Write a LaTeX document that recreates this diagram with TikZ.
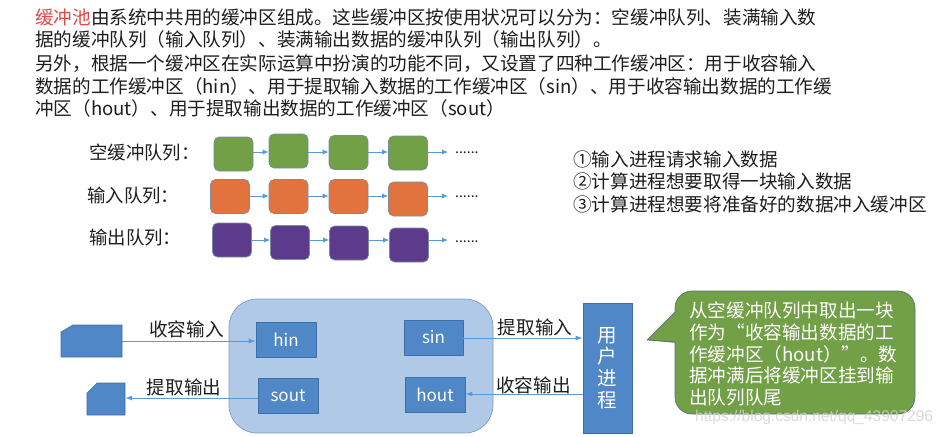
\documentclass[tikz,border=0pt]{standalone}
\usepackage{fontspec}
\setmainfont{Noto Sans CJK SC}
\newfontfamily\wmfont{Liberation Sans}
\usetikzlibrary{arrows.meta}
\definecolor{txt}{HTML}{1E1E1E}
\definecolor{poolred}{HTML}{E04848}
\definecolor{qgreen}{HTML}{71A046}
\definecolor{qorange}{HTML}{E2723E}
\definecolor{qpurple}{HTML}{5C3B8C}
\definecolor{qborder}{HTML}{7A8CA0}
\definecolor{arrowblue}{HTML}{5B9BD5}
\definecolor{bufblue}{HTML}{4F87C7}
\definecolor{bufborder}{HTML}{3E6FA8}
\definecolor{poolfill}{HTML}{AFC9E6}
\definecolor{poolborder}{HTML}{7D9CC8}
\definecolor{bubble}{HTML}{71A046}
\definecolor{bubbleborder}{HTML}{56707A}
\begin{document}
\begin{tikzpicture}[x=1pt,y=-1pt,
  toptext/.style={anchor=west,inner sep=0,text=txt,font=\fontsize{18.6}{22}\selectfont},
  qlabel/.style={anchor=west,inner sep=0,text=txt,font=\fontsize{18.4}{20}\selectfont},
  listtext/.style={anchor=west,inner sep=0,text=txt,font=\fontsize{18.6}{22}\selectfont},
  qbox/.style={draw=qborder,line width=0.6pt,rounded corners=5pt,minimum width=39pt,minimum height=34pt,inner sep=0},
  qdots/.style={anchor=west,inner sep=0,text=txt,font=\fontsize{14}{16}\selectfont},
  qarrow/.style={draw=arrowblue,line width=0.8pt,-{Latex[length=6pt,width=5pt]}},
  bufbox/.style={draw=bufborder,fill=bufblue,line width=0.6pt,minimum width=60pt,minimum height=35pt,inner sep=0,text=white,font=\fontsize{17}{20}\selectfont},
  card/.style={draw=bufborder,fill=bufblue,line width=0.6pt},
  flowlabel/.style={inner sep=0,text=txt,font=\fontsize{18.6}{22}\selectfont},
  flowarrow/.style={draw=arrowblue,line width=0.8pt,-{Latex[length=7pt,width=5pt]}},
]
\useasboundingbox[fill=white] (0,0) rectangle (949,436);

% top paragraph
\node[toptext] (t1) at (35,17) {{\color{poolred}缓冲池}由系统中共用的缓冲区组成。这些缓冲区按使用状况可以分为：空缓冲队列、装满输入数};
\node[toptext] (t2) at (35,39.5) {据的缓冲队列（输入队列）、装满输出数据的缓冲队列（输出队列）。};
\node[toptext] (t3) at (35,64) {另外，根据一个缓冲区在实际运算中扮演的功能不同，又设置了四种工作缓冲区：用于收容输入};
\node[toptext] (t4) at (35,86.5) {数据的工作缓冲区（hin）、用于提取输入数据的工作缓冲区（sin）、用于收容输出数据的工作缓};
\node[toptext] (t5) at (35,108.5) {冲区（hout）、用于提取输出数据的工作缓冲区（sout）};

% queue labels
\node[qlabel] (lg) at (89,152) {空缓冲队列：};
\node[qlabel] (lo) at (87,196) {输入队列：};
\node[qlabel] (lp) at (89,238) {输出队列：};

% green queue
\node[qbox,fill=qgreen] (g1) at (233.5,154) {};
\node[qbox,fill=qgreen] (g2) at (288.5,151) {};
\node[qbox,fill=qgreen] (g3) at (348.5,152.5) {};
\node[qbox,fill=qgreen] (g4) at (408,153) {};
\node[qdots] (gd) at (455,153) {......};
% orange queue
\node[qbox,fill=qorange] (o1) at (230,196.5) {};
\node[qbox,fill=qorange] (o2) at (288.5,196.5) {};
\node[qbox,fill=qorange] (o3) at (348.5,196.5) {};
\node[qbox,fill=qorange] (o4) at (408,199) {};
\node[qdots] (od) at (455,197) {......};
% purple queue
\node[qbox,fill=qpurple] (p1) at (232,240) {};
\node[qbox,fill=qpurple] (p2) at (290,242.5) {};
\node[qbox,fill=qpurple] (p3) at (349,243) {};
\node[qbox,fill=qpurple] (p4) at (409,245) {};
\node[qdots] (pd) at (455,242) {......};

\draw[qarrow] (g1.east |- 0,152) -- (g2.west |- 0,152);
\draw[qarrow] (g2.east |- 0,152) -- (g3.west |- 0,152);
\draw[qarrow] (g3.east |- 0,152) -- (g4.west |- 0,152);
\draw[qarrow] (g4.east |- 0,152) -- ([xshift=-7pt]gd.west |- 0,152);
\draw[qarrow] (o1.east |- 0,196) -- (o2.west |- 0,196);
\draw[qarrow] (o2.east |- 0,196) -- (o3.west |- 0,196);
\draw[qarrow] (o3.east |- 0,196) -- (o4.west |- 0,196);
\draw[qarrow] (o4.east |- 0,196) -- ([xshift=-7pt]od.west |- 0,196);
\draw[qarrow] (p1.east |- 0,240) -- (p2.west |- 0,240);
\draw[qarrow] (p2.east |- 0,240) -- (p3.west |- 0,240);
\draw[qarrow] (p3.east |- 0,240) -- (p4.west |- 0,240);
\draw[qarrow] (p4.east |- 0,240) -- ([xshift=-7pt]pd.west |- 0,240);

% list on the right
\node[listtext] (l1) at (573,159) {①输入进程请求输入数据};
\node[listtext] (l2) at (573,181.5) {②计算进程想要取得一块输入数据};
\node[listtext] (l3) at (573,204) {③计算进程想要将准备好的数据冲入缓冲区};

% buffer pool
\node[draw=poolborder,fill=poolfill,line width=0.7pt,rounded corners=28pt,minimum width=264pt,minimum height=134pt,inner sep=0] (pool) at (361,366) {};
\node[bufbox] (hin) at (286,339.5) {hin};
\node[bufbox] (sout) at (288,396) {sout};
\node[bufbox,minimum width=59pt] (sin) at (433.5,337.5) {sin};
\node[bufbox] (hout) at (435,394.5) {hout};

% devices (card shapes)
\node[inner sep=0,minimum width=61pt,minimum height=32pt] (cardA) at (91.5,341) {};
\draw[card] (61,332) -- (73,325) -- (122,325) -- (122,357) -- (61,357) -- cycle;
\node[inner sep=0,minimum width=38pt,minimum height=32pt] (cardB) at (106,399) {};
\draw[card] (87,393) -- (97,383) -- (125,383) -- (125,415) -- (87,415) -- cycle;

% user process
\node[draw=bufborder,fill=bufblue,line width=0.6pt,minimum width=49pt,minimum height=130pt,inner sep=0,text=white,align=center,font=\fontsize{19.5}{21.7}\selectfont] (user) at (607.5,368) {用\\户\\进\\程};

% connectors
\draw[flowarrow] (cardA.east) -- (cardA.east -| hin.west);
\draw[flowarrow] (sout.west |- 0,398) -- (cardB.east |- 0,398);
\draw[flowarrow] (sin.east |- 0,338) -- (user.west |- 0,338);
\draw[flowarrow] (user.west |- 0,394) -- (hout.east |- 0,394);
\node[flowlabel] (fl1) at (186.5,329) {收容输入};
\node[flowlabel] (fl2) at (184,387) {提取输出};
\node[flowlabel] (fl3) at (535,327) {提取输入};
\node[flowlabel] (fl4) at (533.5,385) {收容输出};

% speech bubble
\node[draw=bubbleborder,fill=bubble,line width=0.7pt,rounded corners=17pt,minimum width=240pt,minimum height=123pt,inner sep=0] (bub) at (795,352.5) {};
\fill[bubble] (676.5,311) -- (647,340) -- (676.5,343) -- cycle;
\draw[bubbleborder,line width=0.7pt,line join=round] (675,312) -- (647,340) -- (675,342);
\node[anchor=north west,inner sep=0,text=white,align=left,font=\fontsize{18.6}{21.8}\selectfont] (bubtext) at (689,301.5) {从空缓冲队列中取出一块\\作为“收容输出数据的工\\作缓冲区（hout）”。数\\据冲满后将缓冲区挂到输\\出队列队尾};

% watermark
\node[anchor=west,inner sep=0,text=black!18,opacity=0.8,font=\wmfont\fontsize{15.5}{18}\selectfont] (wm) at (695,417) {https://blog.csdn.net/qq\_43907296};
\end{tikzpicture}
\end{document}
